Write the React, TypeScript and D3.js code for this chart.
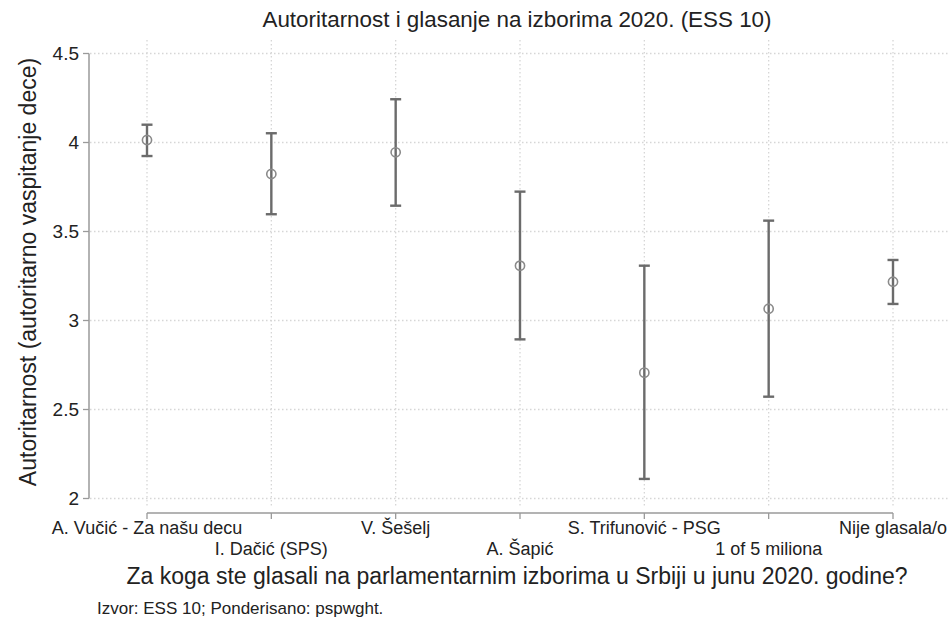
import React from "react";
import * as d3 from "d3";

const categories = [
  "A. Vučić - Za našu decu",
  "I. Dačić (SPS)",
  "V. Šešelj",
  "A. Šapić",
  "S. Trifunović - PSG",
  "1 of 5 miliona",
  "Nije glasala/o",
];
const means = [4.014, 3.823, 3.945, 3.308, 2.707, 3.066, 3.218];
const lower = [3.924, 3.597, 3.645, 2.894, 2.11, 2.572, 3.093];
const upper = [4.1, 4.052, 4.243, 3.724, 3.308, 3.561, 3.34];
const yTicks = [2, 2.5, 3, 3.5, 4, 4.5];
const yTickLabels = ["2", "2.5", "3", "3.5", "4", "4.5"];

const title = "Autoritarnost i glasanje na izborima 2020. (ESS 10)";
const yTitle = "Autoritarnost (autoritarno vaspitanje dece)";
const xTitle = "Za koga ste glasali na parlamentarnim izborima u Srbiji u junu 2020. godine?";
const note = "Izvor: ESS 10; Ponderisano: pspwght.";

const W = 951;
const H = 622;
const FONT = "'Liberation Sans', Arial, Helvetica, sans-serif";

export default function App() {
  const x = d3.scalePoint<string>().domain(categories).range([147, 893]);
  const y = d3.scaleLinear().domain([2, 4.5]).range([498.5, 53.5]);
  const axisColor = "#9a9a9a";
  const gridColor = "#d6d6d6";
  const barColor = "#6b6b6b";
  const capHalf = 5.5;

  return (
    <svg
      width={W}
      height={H}
      style={{ position: "absolute", left: 0, top: 0, background: "#fff" }}
      fontFamily={FONT}
    >
      <rect x={0} y={0} width={W} height={H} fill="#fff" />
      {/* grid */}
      {yTicks.map((t) => (
        <line
          key={"hg" + t}
          x1={90}
          x2={948}
          y1={y(t)}
          y2={y(t)}
          stroke={gridColor}
          strokeWidth={1.3}
          strokeDasharray="1.5,2.5"
        />
      ))}
      {categories.map((c) => (
        <line
          key={"vg" + c}
          x1={x(c)}
          x2={x(c)}
          y1={40}
          y2={506}
          stroke={gridColor}
          strokeWidth={1.3}
          strokeDasharray="1.5,2.5"
        />
      ))}
      {/* y axis */}
      <line x1={89} x2={89} y1={y(4.5)} y2={y(2)} stroke={axisColor} strokeWidth={1.5} />
      {yTicks.map((t, i) => (
        <g key={"yt" + t}>
          <line x1={83} x2={89} y1={y(t)} y2={y(t)} stroke={axisColor} strokeWidth={1.3} />
          <text x={79} y={y(t)} dy="0.35em" textAnchor="end" fontSize={19} fill="#222">
            {yTickLabels[i]}
          </text>
        </g>
      ))}
      {/* x axis */}
      <line x1={x(categories[0])} x2={x(categories[categories.length - 1])} y1={513} y2={513} stroke={axisColor} strokeWidth={1.5} />
      {categories.map((c, i) => (
        <g key={"xt" + c}>
          <line x1={x(c)} x2={x(c)} y1={513} y2={519} stroke={axisColor} strokeWidth={1.3} />
          <text x={x(c)} y={i % 2 === 0 ? 534 : 555} textAnchor="middle" fontSize={18} fill="#222">
            {c}
          </text>
        </g>
      ))}
      {/* error bars */}
      {categories.map((c, i) => {
        const cx = x(c) as number;
        return (
          <g key={"eb" + c} stroke={barColor} strokeWidth={2.4} fill="none">
            <line x1={cx} x2={cx} y1={y(upper[i])} y2={y(lower[i])} />
            <line x1={cx - capHalf} x2={cx + capHalf} y1={y(upper[i])} y2={y(upper[i])} />
            <line x1={cx - capHalf} x2={cx + capHalf} y1={y(lower[i])} y2={y(lower[i])} />
            <circle cx={cx} cy={y(means[i])} r={4.6} stroke="#8a8a8a" strokeWidth={1.6} fill="none" />
          </g>
        );
      })}
      {/* titles */}
      <text x={517} y={27} textAnchor="middle" fontSize={22.4} fill="#222">
        {title}
      </text>
      <text
        transform={`translate(36,${272}) rotate(-90)`}
        textAnchor="middle"
        fontSize={23}
        fill="#222"
      >
        {yTitle}
      </text>
      <text x={517} y={584} textAnchor="middle" fontSize={23} fill="#222">
        {xTitle}
      </text>
      <text x={97} y={614} fontSize={17} fill="#222">
        {note}
      </text>
    </svg>
  );
}
